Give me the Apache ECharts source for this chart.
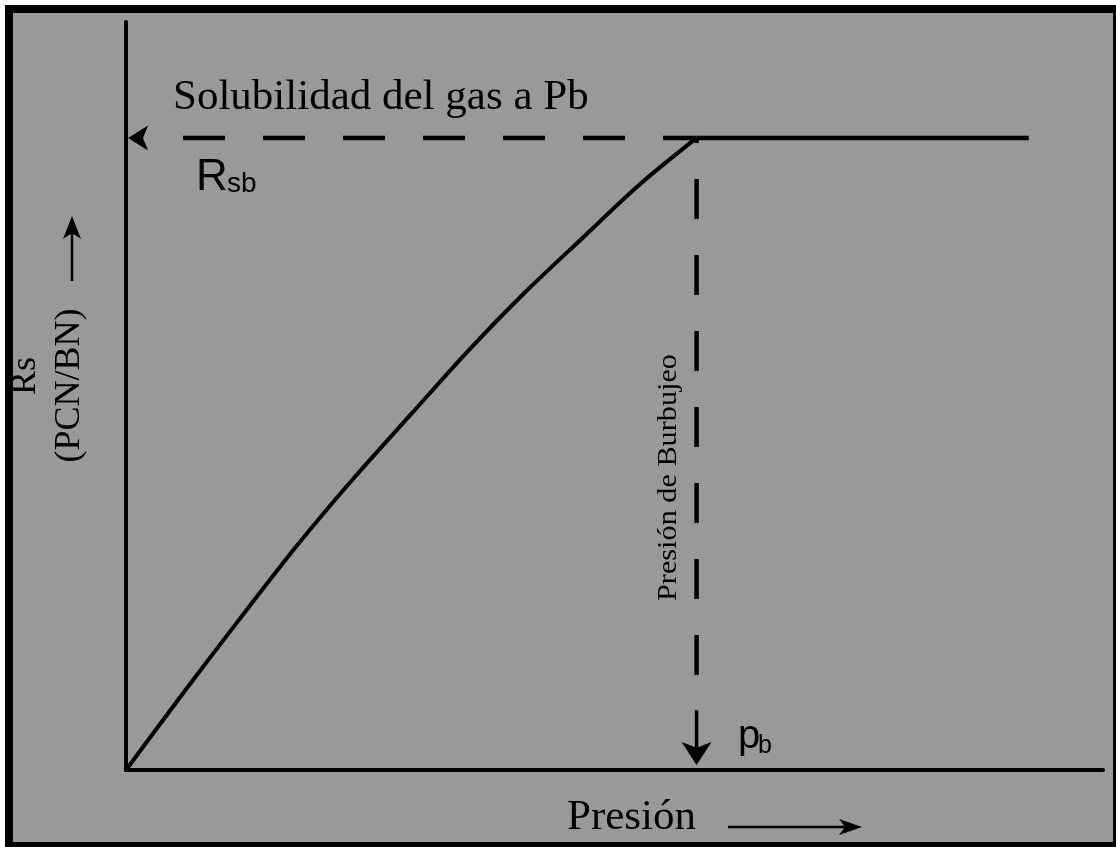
<!DOCTYPE html>
<html>
<head>
<meta charset="utf-8">
<title>Solubilidad del gas</title>
<script src="https://cdn.jsdelivr.net/npm/echarts@6/dist/echarts.min.js"></script>
<style>
  html, body { margin: 0; padding: 0; background: #fff; }
  #chart { width: 1116px; height: 847px; }
</style>
</head>
<body>
<div id="chart"></div>
<script>
// curva Rs vs presion (escala arbitraria 0-100, sin ticks en el original)
const presion = [0, 5.8, 11.7, 17.5, 23.3, 29.2, 35.0, 40.8, 46.7, 52.6, 58.4]
const rs = [0, 10.2, 20.3, 30.0, 39.0, 47.6, 56.0, 63.8, 71.1, 78.3, 84.5]

const pb = 58.4 // presion de burbujeo
const rsb = 84.5 // solubilidad a pb
const presionFin = 92.4 // fin de la linea horizontal

const curva = presion.map((p, i) => [p, rs[i]])

const serif = 'Liberation Serif'
const sans = 'Liberation Sans'
// punta de flecha (apunta hacia arriba)
const flecha = 'path://M12,0 L24,20 L12,15 L0,20 Z'

const chart = echarts.init(document.getElementById('chart'))
chart.setOption({
  backgroundColor: '#fff',
  animation: false,
  grid: { left: 126, right: 13, top: 22, bottom: 77 },
  xAxis: {
    type: 'value', min: 0, max: 100,
    axisLine: { show: true, lineStyle: { color: '#000', width: 4 } },
    axisTick: { show: false }, axisLabel: { show: false }, splitLine: { show: false }
  },
  yAxis: {
    type: 'value', min: 0, max: 100,
    axisLine: { show: true, lineStyle: { color: '#000', width: 4 } },
    axisTick: { show: false }, axisLabel: { show: false }, splitLine: { show: false }
  },
  graphic: [
    // fondo gris con marco negro
    { type: 'rect', z: -10, silent: true,
      shape: { x: 9, y: 9, width: 1108, height: 837 },
      style: { fill: '#999999', stroke: '#000', lineWidth: 8 } },
    { type: 'text', x: 173, y: 98, z: 10,
      style: { text: 'Solubilidad del gas a Pb', font: '43px "' + serif + '"', fill: '#000', verticalAlign: 'middle' } },
    { type: 'text', x: 196, y: 178, z: 10,
      style: { text: 'R', font: '44px "' + sans + '"', fill: '#000', verticalAlign: 'middle' } },
    { type: 'text', x: 227, y: 184, z: 10,
      style: { text: 'sb', font: '28px "' + sans + '"', fill: '#000', verticalAlign: 'middle' } },
    { type: 'text', x: 738, y: 737, z: 10,
      style: { text: 'p', font: '40px "' + sans + '"', fill: '#000', verticalAlign: 'middle' } },
    { type: 'text', x: 758, y: 746, z: 10,
      style: { text: 'b', font: '25px "' + sans + '"', fill: '#000', verticalAlign: 'middle' } },
    { type: 'text', x: 567, y: 818, z: 10,
      style: { text: 'Presión', font: '43px "' + serif + '"', fill: '#000', verticalAlign: 'middle' } },
    { type: 'text', x: 25.5, y: 376, rotation: Math.PI / 2, z: 10,
      style: { text: 'Rs', font: '36px "' + serif + '"', fill: '#000', align: 'center', verticalAlign: 'middle' } },
    { type: 'text', x: 69.5, y: 385.5, rotation: Math.PI / 2, z: 10,
      style: { text: '(PCN/BN)', font: '36px "' + serif + '"', fill: '#000', align: 'center', verticalAlign: 'middle' } },
    { type: 'text', x: 669, y: 477.5, rotation: Math.PI / 2, scaleX: 1.08, z: 10,
      style: { text: 'Presión de Burbujeo', font: '28px "' + serif + '"', fill: '#000', align: 'center', verticalAlign: 'middle' } },
    // flechas de los titulos de ejes
    { type: 'line', z: 10, shape: { x1: 728, y1: 827, x2: 848, y2: 827 }, style: { stroke: '#000', lineWidth: 2.5 } },
    { type: 'polygon', z: 10, shape: { points: [[862, 827], [839, 819], [845, 827], [839, 835]] }, style: { fill: '#000' } },
    { type: 'line', z: 10, shape: { x1: 72, y1: 281, x2: 72, y2: 232 }, style: { stroke: '#000', lineWidth: 2.5 } },
    { type: 'polygon', z: 10, shape: { points: [[72, 216], [63, 239], [72, 233], [81, 239]] }, style: { fill: '#000' } }
  ],
  series: [
    {
      type: 'line', data: curva, smooth: 0.3, symbol: 'none',
      lineStyle: { color: '#000', width: 4 }
    },
    {
      type: 'line', data: [[pb, rsb], [presionFin, rsb]], symbol: 'none',
      lineStyle: { color: '#000', width: 4.5 }
    },
    {
      // linea punteada horizontal hacia el eje Rs
      type: 'line', data: [[1.95, rsb], [pb, rsb]], symbol: 'none',
      lineStyle: { color: '#000', width: 4.5, type: [42, 38], dashOffset: 42 }
    },
    {
      // linea punteada vertical hacia pb
      type: 'line', data: [[pb, rsb], [pb, 9.2]], symbol: 'none',
      lineStyle: { color: '#000', width: 4.5, type: [40, 36], dashOffset: 35 }
    },
    {
      type: 'line', data: [[pb, 8.0], [pb, 2.6]], symbol: 'none',
      lineStyle: { color: '#000', width: 3.5 }
    },
    {
      type: 'scatter', symbol: flecha,
      data: [
        { value: [1.23, rsb], symbolSize: [25, 20], symbolRotate: 90 },
        { value: [pb, 2.2], symbolSize: [30, 23], symbolRotate: 180 }
      ],
      itemStyle: { color: '#000', opacity: 1 }
    }
  ]
})
</script>
</body>
</html>
